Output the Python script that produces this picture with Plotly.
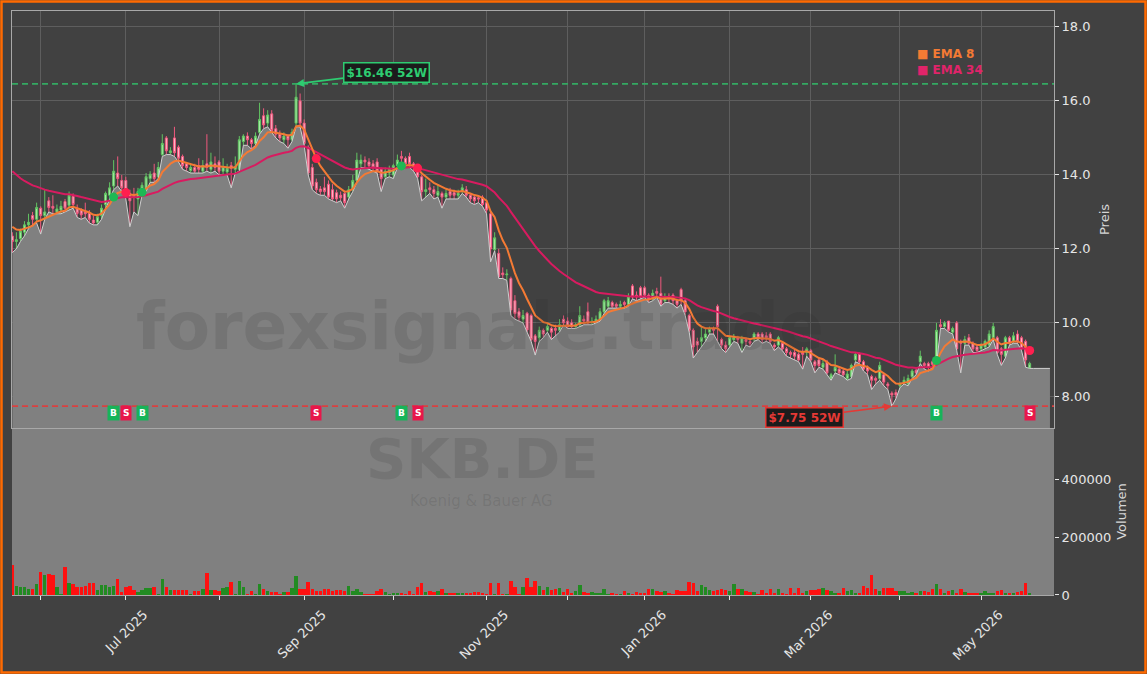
import pandas as pd
import plotly.graph_objects as go

# ---------------- data ----------------
HOLIDAYS = ["2025-12-24", "2025-12-25", "2025-12-26", "2025-12-31",
            "2026-01-01", "2026-04-03", "2026-04-06", "2026-05-01"]
dates = [d for d in pd.bdate_range("2025-05-22", "2026-05-20")
         if d.strftime("%Y-%m-%d") not in HOLIDAYS]

open_ = [
    12.35, 12.20, 12.28, 12.45, 12.65, 12.90, 12.80,
    13.10, 12.90, 13.30, 13.15, 13.00, 13.05, 13.28, 13.18, 13.42, 13.10,
    13.05, 13.00, 12.96, 12.78, 12.72, 12.90, 13.20, 13.45, 13.70, 14.05,
    13.85, 13.85, 13.50, 13.45, 13.35, 13.55, 13.60, 13.90, 14.05, 13.95,
    14.55, 15.00, 14.60, 15.00, 14.75, 14.50, 14.30, 14.12, 14.20, 14.25,
    14.10, 14.30, 14.15, 14.30, 14.35, 14.10, 14.08, 14.25, 14.15, 14.15,
    14.90, 15.05, 14.95, 14.85, 15.15, 15.60, 15.40, 15.65, 15.25, 15.10,
    14.95, 15.05, 14.95, 15.40, 16.00, 15.40, 14.75, 14.20, 13.80, 13.62,
    13.65, 13.75, 13.60, 13.52, 13.45, 13.50, 13.40, 13.60, 13.85, 14.30,
    14.40, 14.35, 14.30, 14.35, 14.15, 13.95, 14.05, 14.00, 14.25, 14.50,
    14.45, 14.50, 14.30, 14.20, 13.95, 13.55, 13.65, 13.60, 13.45, 13.50,
    13.40, 13.55, 13.52, 13.45, 13.55, 13.60, 13.45, 13.40, 13.38, 13.40,
    13.25, 12.95, 11.98, 11.88, 11.35, 11.30, 11.20, 10.60, 10.30, 10.10,
    10.26, 10.20, 9.65, 9.60, 9.80, 9.80, 9.85, 9.85, 9.80, 10.10,
    10.05, 10.00, 9.90, 9.95, 10.10, 10.30, 10.00, 10.05, 10.10, 10.30,
    10.45, 10.55, 10.50, 10.45, 10.55, 10.50, 11.00, 10.75, 10.95, 10.95,
    10.75, 10.65, 10.85, 10.80, 10.60, 10.72, 10.75, 10.60, 10.90, 10.60,
    10.20, 9.80, 9.50, 9.50, 9.60, 9.75, 9.85, 10.45, 9.55, 9.40,
    9.40, 9.55, 9.60, 9.45, 9.55, 9.50, 9.60, 9.70, 9.70, 9.65,
    9.70, 9.40, 9.40, 9.45, 9.30, 9.20, 9.20, 9.15, 9.20, 9.20,
    9.25, 8.95, 9.00, 8.80, 8.95, 8.50, 8.70, 8.75, 8.70, 8.50,
    8.55, 9.00, 9.15, 8.95, 8.80, 8.55, 8.50, 8.50, 8.60, 8.35,
    8.10, 8.12, 8.30, 8.40, 8.35, 8.55, 8.72, 8.95, 8.90, 8.90,
    8.95, 8.90, 9.95, 9.90, 10.05, 9.75, 10.00, 9.50, 9.45, 9.60,
    9.45, 9.35, 9.30, 9.35, 9.40, 9.60, 9.60, 9.30, 9.10, 9.60,
    9.50, 9.70, 9.60, 9.50, 8.78,
]
high = [
    12.45, 12.45, 12.55, 12.75, 12.95, 13.00, 13.25,
    13.15, 13.60, 13.40, 13.45, 13.20, 13.30, 13.35, 13.55, 13.50, 13.20,
    13.10, 13.25, 13.05, 12.90, 12.95, 13.20, 13.55, 13.80, 14.40, 14.50,
    14.00, 13.95, 13.60, 13.65, 13.65, 13.80, 14.05, 14.10, 14.30, 14.35,
    15.10, 15.05, 14.75, 15.30, 14.80, 14.55, 14.35, 14.30, 14.30, 14.45,
    14.40, 15.10, 14.60, 14.50, 14.40, 14.45, 14.30, 14.35, 14.50, 15.05,
    15.10, 15.15, 15.00, 15.15, 15.95, 15.80, 15.75, 15.75, 15.35, 15.20,
    15.15, 15.10, 15.25, 16.46, 16.20, 15.50, 14.80, 14.30, 13.90, 13.70,
    13.95, 13.85, 13.75, 13.60, 13.55, 13.55, 13.70, 14.00, 14.60, 14.55,
    14.50, 14.45, 14.40, 14.45, 14.20, 14.20, 14.25, 14.30, 14.55, 14.65,
    14.50, 14.60, 14.35, 14.25, 14.00, 13.90, 13.80, 13.70, 13.75, 13.55,
    13.60, 13.65, 13.60, 13.60, 13.75, 13.70, 13.50, 13.45, 13.45, 13.45,
    13.30, 13.00, 12.45, 12.00, 11.50, 11.45, 11.25, 10.75, 10.40, 10.35,
    10.30, 10.25, 9.70, 9.90, 9.85, 10.00, 9.90, 9.95, 10.10, 10.20,
    10.15, 10.10, 10.00, 10.45, 10.20, 10.55, 10.15, 10.20, 10.40, 10.65,
    10.70, 10.60, 10.55, 10.60, 10.60, 10.80, 11.05, 10.85, 11.00, 11.00,
    10.80, 10.90, 10.95, 11.25, 10.80, 10.80, 10.80, 10.65, 10.95, 10.65,
    10.25, 9.85, 9.60, 9.90, 9.85, 9.90, 9.90, 10.50, 9.60, 9.50,
    9.65, 9.70, 9.65, 9.65, 9.60, 9.55, 9.75, 9.75, 9.75, 9.75,
    9.75, 9.45, 9.65, 9.50, 9.35, 9.25, 9.30, 9.20, 9.35, 9.35,
    9.30, 9.00, 9.05, 9.00, 9.00, 8.65, 9.15, 8.80, 8.75, 8.70,
    8.90, 9.20, 9.20, 9.00, 8.85, 8.60, 8.55, 8.95, 8.65, 8.40,
    8.15, 8.20, 8.40, 8.55, 8.60, 8.75, 8.80, 9.25, 8.95, 8.95,
    9.00, 10.00, 10.10, 10.05, 10.05, 9.90, 10.05, 9.55, 9.65, 9.70,
    9.50, 9.40, 9.45, 9.55, 9.80, 10.00, 9.65, 9.35, 9.65, 9.65,
    9.75, 9.80, 9.65, 9.55, 8.95,
]
low = [
    11.90, 12.00, 12.20, 12.35, 12.55, 12.65, 12.70,
    12.40, 12.80, 13.00, 12.95, 12.95, 12.95, 13.00, 13.05, 13.10, 12.85,
    12.80, 12.85, 12.70, 12.65, 12.65, 12.80, 13.10, 13.35, 13.60, 13.70,
    13.55, 13.35, 12.60, 13.00, 12.90, 13.45, 13.55, 13.80, 13.80, 13.90,
    14.50, 14.55, 14.55, 14.50, 14.35, 14.15, 14.10, 14.05, 14.05, 14.05,
    14.05, 14.10, 14.05, 14.10, 14.00, 14.00, 14.00, 13.65, 14.05, 14.10,
    14.80, 14.80, 14.70, 14.80, 15.10, 15.25, 15.30, 15.15, 15.00, 14.90,
    14.85, 14.72, 14.90, 15.30, 15.30, 14.80, 14.00, 13.60, 13.50, 13.45,
    13.45, 13.35, 13.30, 13.25, 13.30, 13.10, 13.35, 13.55, 13.80, 14.20,
    14.20, 14.15, 14.10, 14.05, 13.55, 13.90, 13.95, 13.90, 14.20, 14.35,
    14.20, 14.20, 14.10, 13.90, 13.30, 13.40, 13.50, 13.35, 13.40, 13.10,
    13.35, 13.35, 13.35, 13.35, 13.50, 13.40, 13.25, 13.20, 13.25, 13.15,
    12.95, 11.65, 11.95, 11.20, 11.20, 11.15, 10.20, 10.10, 10.05, 10.00,
    9.75, 9.50, 9.13, 9.50, 9.60, 9.75, 9.55, 9.65, 9.75, 9.95,
    9.85, 9.85, 9.85, 9.90, 9.95, 9.95, 9.95, 10.00, 10.05, 10.25,
    10.40, 10.40, 10.40, 10.40, 10.40, 10.45, 10.65, 10.60, 10.65, 10.70,
    10.55, 10.60, 10.70, 10.45, 10.55, 10.55, 10.50, 10.40, 10.50, 10.20,
    9.75, 9.05, 9.20, 9.35, 9.50, 9.70, 9.70, 9.50, 9.30, 9.20,
    9.35, 9.50, 9.45, 9.20, 9.40, 9.35, 9.50, 9.55, 9.45, 9.50,
    9.45, 9.25, 9.35, 9.25, 9.10, 9.05, 9.00, 8.95, 8.75, 9.10,
    8.95, 8.65, 8.80, 8.75, 8.60, 8.45, 8.65, 8.60, 8.55, 8.45,
    8.50, 8.95, 8.90, 8.70, 8.60, 8.20, 8.35, 8.45, 8.30, 8.20,
    7.75, 7.95, 8.25, 8.35, 8.30, 8.50, 8.60, 8.90, 8.75, 8.70,
    8.80, 8.85, 9.85, 9.85, 9.75, 9.70, 9.25, 8.65, 9.40, 9.40,
    9.20, 9.20, 9.25, 9.30, 9.35, 9.55, 9.15, 8.85, 9.05, 9.40,
    9.45, 9.45, 9.25, 8.80, 8.77,
]
close = [
    12.20, 12.25, 12.48, 12.65, 12.72, 12.80, 13.12,
    12.90, 13.00, 13.12, 13.10, 13.08, 13.15, 13.10, 13.45, 13.20, 12.96,
    12.92, 12.95, 12.80, 12.70, 12.87, 13.10, 13.50, 13.65, 14.10, 13.90,
    13.65, 13.45, 13.30, 13.40, 13.55, 13.72, 13.95, 14.02, 13.90, 14.20,
    14.85, 14.65, 14.65, 14.60, 14.45, 14.25, 14.20, 14.20, 14.10, 14.15,
    14.25, 14.20, 14.35, 14.20, 14.10, 14.22, 14.18, 14.18, 14.22, 14.95,
    15.05, 14.95, 14.85, 15.05, 15.50, 15.35, 15.62, 15.20, 15.10, 15.00,
    15.05, 14.95, 15.15, 16.10, 15.40, 14.85, 14.05, 13.70, 13.60, 13.55,
    13.55, 13.40, 13.35, 13.35, 13.38, 13.25, 13.60, 13.85, 14.40, 14.40,
    14.35, 14.25, 14.20, 14.10, 13.90, 14.10, 14.15, 14.25, 14.40, 14.45,
    14.30, 14.30, 14.20, 13.95, 13.55, 13.60, 13.60, 13.50, 13.55, 13.40,
    13.50, 13.45, 13.45, 13.50, 13.65, 13.45, 13.35, 13.30, 13.35, 13.20,
    13.05, 12.00, 12.30, 11.25, 11.30, 11.32, 10.35, 10.25, 10.15, 10.20,
    9.81, 9.55, 9.50, 9.80, 9.70, 9.90, 9.75, 9.80, 9.95, 10.00,
    9.90, 9.90, 9.95, 10.20, 10.05, 10.00, 10.05, 10.10, 10.30, 10.60,
    10.60, 10.45, 10.45, 10.50, 10.50, 10.70, 10.70, 10.70, 10.70, 10.75,
    10.65, 10.80, 10.80, 10.50, 10.70, 10.68, 10.60, 10.50, 10.60, 10.30,
    9.80, 9.35, 9.40, 9.60, 9.70, 9.85, 9.80, 9.90, 9.40, 9.30,
    9.60, 9.60, 9.55, 9.60, 9.50, 9.45, 9.70, 9.60, 9.55, 9.60,
    9.50, 9.35, 9.60, 9.30, 9.20, 9.15, 9.10, 9.00, 9.15, 9.30,
    9.00, 8.85, 8.85, 8.90, 8.65, 8.60, 8.80, 8.65, 8.60, 8.62,
    8.85, 9.15, 8.95, 8.75, 8.70, 8.45, 8.45, 8.85, 8.40, 8.30,
    8.05, 8.05, 8.35, 8.45, 8.50, 8.70, 8.65, 9.10, 8.85, 8.80,
    8.88, 9.80, 9.90, 10.00, 9.80, 9.85, 9.30, 9.45, 9.55, 9.45,
    9.30, 9.25, 9.40, 9.50, 9.70, 9.90, 9.20, 9.15, 9.60, 9.45,
    9.65, 9.50, 9.30, 9.00, 8.90,
]
volume = [
    102000, 32000, 29000, 29000, 21000, 21000, 38000,
    81000, 70000, 73000, 70000, 29000, 5000, 98000, 42000, 38000, 29000,
    29000, 32000, 42000, 42000, 18000, 36000, 36000, 27000, 30000, 57000,
    9000, 27000, 32000, 17000, 12000, 17000, 25000, 25000, 29000, 4000,
    54000, 29000, 18000, 18000, 18000, 18000, 18000, 4000, 15000, 15000,
    22000, 77000, 18000, 18000, 13000, 25000, 29000, 46000, 4000, 50000,
    29000, 4000, 15000, 4000, 39000, 22000, 15000, 12000, 12000, 4000,
    9000, 12000, 25000, 67000, 22000, 22000, 46000, 22000, 15000, 15000,
    22000, 22000, 15000, 17000, 18000, 13000, 32000, 13000, 22000, 9000,
    3000, 3000, 3000, 15000, 22000, 9000, 3000, 7000, 7000, 7000,
    3000, 15000, 3000, 29000, 43000, 9000, 15000, 12000, 15000, 22000,
    8000, 8000, 8000, 8000, 8000, 8000, 8000, 12000, 9000, 7000,
    3000, 43000, 3000, 43000, 3000, 3000, 50000, 27000, 3000, 29000,
    60000, 27000, 50000, 32000, 18000, 29000, 18000, 22000, 25000, 9000,
    22000, 7000, 13000, 36000, 9000, 6000, 12000, 7000, 7000, 22000,
    3000, 7000, 3000, 3000, 15000, 8000, 3000, 12000, 8000, 6000,
    22000, 22000, 15000, 9000, 15000, 7000, 3000, 18000, 13000, 13000,
    46000, 40000, 15000, 36000, 29000, 18000, 13000, 18000, 22000, 17000,
    15000, 39000, 22000, 22000, 15000, 12000, 12000, 3000, 18000, 8000,
    22000, 7000, 22000, 7000, 3000, 25000, 8000, 25000, 8000, 15000,
    18000, 18000, 22000, 25000, 18000, 15000, 8000, 7000, 25000, 13000,
    18000, 7000, 7000, 32000, 25000, 70000, 22000, 15000, 25000, 25000,
    25000, 13000, 15000, 15000, 7000, 12000, 6000, 15000, 15000, 12000,
    20000, 39000, 22000, 8000, 15000, 18000, 6000, 22000, 12000, 6000,
    6000, 8000, 6000, 15000, 7000, 8000, 15000, 18000, 8000, 6000,
    8000, 12000, 15000, 43000, 8000,
]

# EMA start values (carried over from before the visible window)
EMA8_START = 12.6
EMA34_START = 14.1
# crossover signal positions (index in the series)
BUY_IDX = [25, 32, 96, 228]
SELL_IDX = [28, 75, 100, 251]
FILL_EXTENSION = 5          # grey area continues past last bar
SIGNAL_LABEL_PRICE = 7.57

PRICE_TICKS = [8, 10, 12, 14, 16, 18]
PRICE_TICKTEXT = ["8.00", "10.0", "12.0", "14.0", "16.0", "18.0"]
VOL_TICKS = [0, 200000, 400000]
VOL_TICKTEXT = ["0", "200000", "400000"]

# ---------------- derived ----------------
x = list(range(len(dates)))


def ema(vals, span, start):
    a = 2.0 / (span + 1)
    out = [start]
    for v in vals[1:]:
        out.append(a * v + (1 - a) * out[-1])
    return out


ema8 = ema(close, 8, EMA8_START)
ema34 = ema(close, 34, EMA34_START)

x_fill = x + [x[-1] + k for k in range(1, FILL_EXTENSION + 1)]
low_fill = low + [low[-1]] * FILL_EXTENSION

vol_colors = ["#228b22" if c >= o else "#ff1010" for o, c in zip(open_, close)]

tick_pos, tick_txt = [], []
for j in range(1, len(dates)):
    if dates[j].month != dates[j - 1].month:
        tick_pos.append(j)
        tick_txt.append(dates[j].strftime("%b %Y") if dates[j].month % 2 == 1 else "")

hi_idx = max(range(len(high)), key=lambda k: high[k])
lo_idx = min(range(len(low)), key=lambda k: low[k])

FONT = "DejaVu Sans"
BG = "#414141"
GRID = "#5e5e5e"
FRAME = "#a8a8a8"
TXT = "#e6e6e6"

fig = go.Figure()
fig.add_trace(go.Scatter(x=x_fill, y=low_fill, mode="lines",
                         line=dict(color="#d0d0d0", width=1),
                         fill="tozeroy", fillcolor="#808080",
                         xaxis="x", yaxis="y", hoverinfo="skip", showlegend=False))
fig.add_trace(go.Candlestick(x=x, open=open_, high=high, low=low, close=close,
                             increasing=dict(line=dict(color="#62c462", width=1), fillcolor="#a8eca8"),
                             decreasing=dict(line=dict(color="#f0587e", width=1), fillcolor="#ffb8c8"),
                             whiskerwidth=0, xaxis="x", yaxis="y", showlegend=False))
fig.add_trace(go.Scatter(x=x, y=ema34, mode="lines", line=dict(color="#d81b60", width=2),
                         xaxis="x", yaxis="y", showlegend=False))
fig.add_trace(go.Scatter(x=x, y=ema8, mode="lines", line=dict(color="#f47a34", width=2),
                         xaxis="x", yaxis="y", showlegend=False))
fig.add_trace(go.Scatter(x=BUY_IDX, y=[ema8[k] for k in BUY_IDX], mode="markers",
                         marker=dict(color="#1db954", size=9), xaxis="x", yaxis="y", showlegend=False))
fig.add_trace(go.Scatter(x=SELL_IDX, y=[ema8[k] for k in SELL_IDX], mode="markers",
                         marker=dict(color="#ff1f4f", size=9), xaxis="x", yaxis="y", showlegend=False))
fig.add_trace(go.Bar(x=x, y=volume, marker=dict(color=vol_colors, line=dict(width=0)),
                     width=0.85, xaxis="x2", yaxis="y2", showlegend=False))

XR = [-0.08, 257.0]
SPLIT = 0.286

fig.update_layout(
    width=1147, height=674,
    margin=dict(l=12, r=93, t=11, b=79),
    paper_bgcolor=BG, plot_bgcolor=BG,
    font=dict(family=FONT, color=TXT, size=13),
    showlegend=False, bargap=0,
    xaxis=dict(domain=[0, 1], anchor="y", range=XR, tickvals=tick_pos, showticklabels=False,
               showgrid=True, gridcolor=GRID, gridwidth=1, zeroline=False,
               showline=True, mirror=True, linecolor=FRAME, linewidth=1,
               rangeslider=dict(visible=False), ticks=""),
    yaxis=dict(domain=[SPLIT, 1], anchor="x", side="right", range=[7.16, 18.43],
               tickvals=PRICE_TICKS, ticktext=PRICE_TICKTEXT, ticks="outside", ticklen=4,
               tickcolor=TXT, tickfont=dict(size=13, color=TXT),
               showgrid=True, gridcolor=GRID, gridwidth=1, zeroline=False,
               showline=True, mirror=True, linecolor=FRAME, linewidth=1,
               title=dict(text="Preis", font=dict(size=13, color="#d6d6d6"), standoff=10)),
    xaxis2=dict(domain=[0, 1], anchor="y2", range=XR, tickvals=tick_pos, ticktext=tick_txt,
                tickangle=-45, ticks="outside", ticklen=4, tickcolor=TXT,
                tickfont=dict(size=13, color=TXT), ticklabelshift=18, ticklabelstandoff=2,
                showgrid=False, zeroline=False, showline=True, linecolor=FRAME, linewidth=1),
    yaxis2=dict(domain=[0, SPLIT], anchor="x2", side="right", range=[0, 576000],
                tickvals=VOL_TICKS, ticktext=VOL_TICKTEXT, ticks="outside", ticklen=4,
                tickcolor=TXT, tickfont=dict(size=13, color=TXT),
                showgrid=False, zeroline=False, showline=False,
                title=dict(text="Volumen", font=dict(size=13, color="#d6d6d6"), standoff=6)),
)

shapes = [
    dict(type="rect", xref="paper", yref="paper", x0=0, x1=1, y0=0, y1=SPLIT,
         fillcolor="#808080", line=dict(width=0), layer="below"),
    dict(type="line", xref="x domain", yref="y", x0=0, x1=1, y0=high[hi_idx], y1=high[hi_idx],
         line=dict(color="#35a862", width=1.6, dash="6px,4px"), layer="above"),
    dict(type="line", xref="x domain", yref="y", x0=0, x1=1, y0=low[lo_idx], y1=low[lo_idx],
         line=dict(color="#d94040", width=1.6, dash="6px,4px"), layer="above"),
    dict(type="rect", xref="paper", yref="paper",
         x0=(1.5 - 12) / 1042, x1=(1145.5 - 12) / 1042,
         y0=(595 - 672.5) / 584, y1=(595 - 1.5) / 584,
         line=dict(color="#ff6a00", width=2.5), fillcolor="rgba(0,0,0,0)", layer="above"),
]
fig.update_layout(shapes=shapes)

ann = []
# watermarks
ann.append(dict(text="<b>forexsignale.trade</b>", xref="paper", yref="paper", x=0.449, y=0.459,
                xanchor="center", yanchor="middle", showarrow=False,
                font=dict(size=66, color="rgba(40,40,40,0.13)", family=FONT)))
ann.append(dict(text="<b>SKB.DE</b>", xref="paper", yref="paper", x=0.451, y=0.2329,
                xanchor="center", yanchor="middle", showarrow=False,
                font=dict(size=56, color="rgba(40,40,40,0.13)", family=FONT)))
ann.append(dict(text="Koenig &amp; Bauer AG", xref="paper", yref="paper", x=0.451, y=0.161,
                xanchor="center", yanchor="middle", showarrow=False,
                font=dict(size=15, color="rgba(40,40,40,0.13)", family=FONT)))
# legend
ann.append(dict(text="<b>■ EMA 8</b>", xref="paper", yref="paper", x=0.8666, y=0.926,
                xanchor="left", yanchor="middle", showarrow=False,
                font=dict(size=12, color="#f47a34", family=FONT)))
ann.append(dict(text="<b>■ EMA 34</b>", xref="paper", yref="paper", x=0.8666, y=0.899,
                xanchor="left", yanchor="middle", showarrow=False,
                font=dict(size=12, color="#e0246a", family=FONT)))
# 52W annotations
ann.append(dict(text=f"<b>${high[hi_idx]:.2f} 52W</b>", x=hi_idx, y=high[hi_idx], xref="x", yref="y",
                showarrow=True, arrowhead=2, arrowsize=1, arrowwidth=1.6, arrowcolor="#2ecc71",
                ax=90, ay=-11, font=dict(size=12, color="#2ecc71", family=FONT),
                bgcolor="#1c1c1c", bordercolor="#2ecc71", borderwidth=1.5, borderpad=2))
ann.append(dict(text=f"<b>${low[lo_idx]:.2f} 52W</b>", x=lo_idx, y=low[lo_idx], xref="x", yref="y",
                showarrow=True, arrowhead=2, arrowsize=1, arrowwidth=1.6, arrowcolor="#e53935",
                ax=-87, ay=11, font=dict(size=12, color="#e53935", family=FONT),
                bgcolor="#1c1c1c", bordercolor="#e53935", borderwidth=1.5, borderpad=2))
# B / S labels
for k in BUY_IDX:
    ann.append(dict(text="<b>B</b>", x=k, y=SIGNAL_LABEL_PRICE, xref="x", yref="y", showarrow=False,
                    font=dict(size=9, color="white", family=FONT), bgcolor="#16b45a", borderpad=2))
for k in SELL_IDX:
    ann.append(dict(text="<b>S</b>", x=k, y=SIGNAL_LABEL_PRICE, xref="x", yref="y", showarrow=False,
                    font=dict(size=9, color="white", family=FONT), bgcolor="#e8174a", borderpad=2))
fig.update_layout(annotations=ann)

fig.write_html("out.html")
